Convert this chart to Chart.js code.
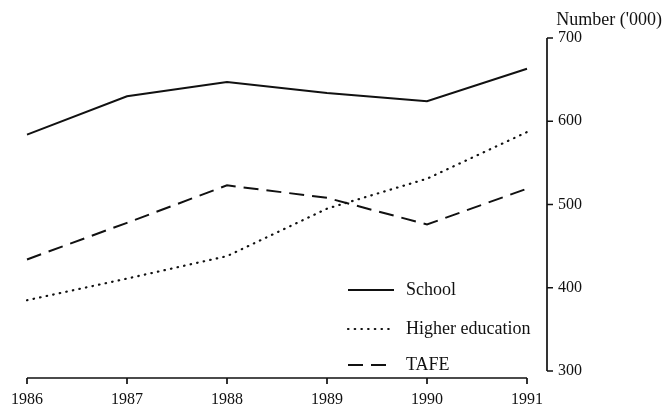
<!DOCTYPE html>
<html>
<head>
<meta charset="utf-8">
<script src="https://cdn.jsdelivr.net/npm/chart.js@4"></script>
<style>
  html, body { margin: 0; padding: 0; background: #fff; }
  #wrap { width: 668px; height: 407px; }
</style>
</head>
<body>
<div id="wrap"><canvas id="enrolChart"></canvas></div>
<script>
// years along the bottom
const years = ["1986", "1987", "1988", "1989", "1990", "1991"];

// enrolments, thousands
const school = [584, 630, 647, 634, 624, 663];
const higherEducation = [385, 411, 438, 495, 531, 587];
const tafe = [434, 478, 523, 508, 476, 519];

const yTicks = [300, 400, 500, 600, 700];

const ink = "#111";
const serif = "'Liberation Serif', 'DejaVu Serif', serif";

// draws the detached axes (offset from the plot like in the print)
const detachedAxes = {
  id: "detachedAxes",
  afterDraw(chart) {
    const ctx = chart.ctx;
    const area = chart.chartArea;
    const x = chart.scales.x;
    const y = chart.scales.y;
    ctx.save();
    ctx.strokeStyle = ink;
    ctx.lineWidth = 1.7;

    // y axis on the right
    const ax = area.right + 20;
    ctx.beginPath();
    ctx.moveTo(ax, y.getPixelForValue(yTicks[yTicks.length - 1]));
    ctx.lineTo(ax, y.getPixelForValue(yTicks[0]));
    yTicks.forEach(v => {
      const py = y.getPixelForValue(v);
      ctx.moveTo(ax, py);
      ctx.lineTo(ax + 6, py);
    });
    ctx.stroke();

    // x axis below
    const ay = area.bottom + 7;
    ctx.beginPath();
    ctx.moveTo(x.getPixelForValue(0), ay);
    ctx.lineTo(x.getPixelForValue(years.length - 1), ay);
    years.forEach((yr, i) => {
      const px = x.getPixelForValue(i);
      ctx.moveTo(px, ay);
      ctx.lineTo(px, ay + 6);
    });
    ctx.stroke();
    ctx.restore();
  }
};

// legend sitting inside the plot, lower right
const innerLegend = {
  id: "innerLegend",
  afterDraw(chart) {
    const ctx = chart.ctx;
    const area = chart.chartArea;
    const x0 = area.left + 321;
    const rows = [area.top + 252, area.top + 291, area.top + 327];
    ctx.save();
    ctx.font = "18px " + serif;
    ctx.fillStyle = ink;
    ctx.textBaseline = "middle";
    chart.data.datasets.forEach((ds, i) => {
      const ry = rows[i];
      ctx.strokeStyle = ink;
      ctx.lineWidth = ds.borderWidth;
      ctx.lineCap = ds.borderCapStyle || "butt";
      ctx.setLineDash(ds.borderDash || []);
      ctx.beginPath();
      ctx.moveTo(x0, ry);
      ctx.lineTo(x0 + 46, ry);
      ctx.stroke();
      ctx.setLineDash([]);
      ctx.fillText(ds.label, x0 + 58, ry);
    });
    ctx.restore();
  }
};

const data = {
  labels: years,
  datasets: [
    {
      label: "School",
      data: school,
      borderColor: ink,
      borderWidth: 2,
      borderDash: [],
    },
    {
      label: "Higher education",
      data: higherEducation,
      borderColor: ink,
      borderWidth: 2.2,
      borderDash: [0.5, 6.2],
      borderCapStyle: "round",
    },
    {
      label: "TAFE",
      data: tafe,
      borderColor: ink,
      borderWidth: 2,
      borderDash: [15, 8],
    },
  ],
};

const config = {
  type: "line",
  data: data,
  options: {
    responsive: true,
    maintainAspectRatio: false,
    animation: false,
    layout: { padding: { left: 20, right: 6, top: 0, bottom: 0 } },
    elements: { point: { radius: 0 }, line: { tension: 0 } },
    plugins: {
      legend: { display: false },
      tooltip: { enabled: false },
      title: {
        display: true,
        text: "Number ('000)",
        align: "end",
        color: ink,
        font: { family: serif, size: 18, weight: "normal" },
        padding: { top: 9, bottom: 7.4 },
      },
    },
    scales: {
      x: {
        grid: { display: false },
        border: { display: false },
        ticks: {
          color: ink,
          font: { family: serif, size: 16 },
          padding: 11,
          maxRotation: 0,
          autoSkip: false,
        },
        afterFit: (scale) => { scale.height = 36; },
      },
      y: {
        position: "right",
        min: 300,
        max: 700,
        grid: { display: false },
        border: { display: false },
        ticks: {
          color: ink,
          font: { family: serif, size: 16 },
          stepSize: 100,
          padding: 23,
        },
        afterFit: (scale) => { scale.width = 135; },
      },
    },
  },
  plugins: [detachedAxes, innerLegend],
};

const ctx = document.getElementById("enrolChart").getContext("2d");
const enrolChart = new Chart(ctx, config);
</script>
</body>
</html>
